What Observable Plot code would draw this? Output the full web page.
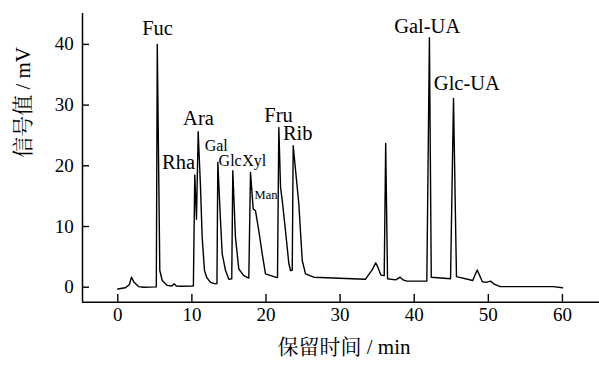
<!DOCTYPE html>
<html>
<head>
<meta charset="utf-8">
<script src="https://cdn.jsdelivr.net/npm/d3@7"></script>
<script src="https://cdn.jsdelivr.net/npm/@observablehq/plot@0.6"></script>
<style>
  html, body { margin: 0; padding: 0; background: #fff; }
  svg text { font-family: "Liberation Serif", "Noto Serif CJK SC", "Noto Sans CJK SC", serif; }
</style>
</head>
<body>
<div id="chart"></div>
<script>
// Retention time (min) and detector signal (mV)
const time = [0, 1.0, 1.55, 1.85, 2.2, 2.8, 3.5, 5.2, 5.33, 5.67, 6.0, 6.67, 7.3, 7.6, 7.9, 8.5,
  10.2, 10.39, 10.62, 10.85, 11.16, 11.39, 11.7, 12.0, 12.51, 13.18, 13.38, 13.5, 13.86, 14.09, 14.54, 14.98,
  15.38, 15.52, 15.88, 16.33, 17.0, 17.68, 17.91, 18.27, 18.58, 19.03, 19.49, 19.93, 21.28, 21.55, 21.73,
  21.96, 22.19, 22.63, 23.08, 23.31, 23.54, 23.67, 24.43, 24.89, 25.33, 26.45, 33.4, 34.3, 34.8, 35.1, 35.5,
  35.95, 36.15, 36.4, 37.5, 38.1, 38.5, 39.0, 41.7, 42.05, 42.3, 44.9, 45.3, 45.7, 47.9, 48.2, 48.5, 48.8,
  49.2, 49.7, 50.3, 50.8, 51.6, 58.8, 60];
const signal = [-0.3, -0.1, 0.4, 1.65, 0.8, 0.1, 0.0, 0.05, 40.0, 2.75, 1.1, 0.3, 0.2, 0.55, 0.2, 0.15,
  0.2, 18.5, 11.2, 25.6, 16.5, 8.2, 2.75, 1.6, 0.8, 0.55, 0.6, 20.6, 11, 5.5, 2.75, 1.3,
  1.4, 19.2, 8.2, 3.0, 1.9, 1.5, 18.9, 12.9, 12.6, 9.3, 5.5, 2.2, 1.65, 1.6, 26.3,
  16.5, 14.3, 9.3, 3.9, 2.75, 2.8, 23.3, 13.7, 4.4, 2.2, 1.65, 1.3, 2.8, 4.0, 3.3, 2.0,
  1.9, 23.7, 1.4, 1.2, 1.65, 1.2, 1.0, 1.0, 41.1, 1.65, 1.4, 31.1, 1.75, 1.1, 2.0, 2.85, 2.0,
  0.9, 0.8, 1.0, 0.5, 0.1, 0.1, -0.1];

// Peak annotations
const peakNames = ["Fuc", "Rha", "Ara", "Gal", "Glc", "Xyl", "Man", "Fru", "Rib", "Gal-UA", "Glc-UA"];
const peakTime  = [5.36, 8.2, 10.89, 13.28, 15.16, 18.42, 20.0, 21.69, 24.28, 41.75, 47.1];
const peakLabelY = [42.6, 20.5, 27.8, 23.3, 20.85, 20.85, 15.2, 28.3, 25.3, 42.95, 33.5];
const peakClass = ["major", "major", "major", "minor", "minor", "minor", "tiny", "major", "major", "major", "major"];

const xTicks = [0, 10, 20, 30, 40, 50, 60];
const yTicks = [0, 10, 20, 30, 40];
const xDomain = [-4.76, 65];
const yDomain = [-2.47, 45.09];
const xLabel = "保留时间 / min";
const yLabel = "信号值 / mV";

const trace = time.map((t, i) => ({t, v: signal[i]}));
const labels = peakNames.map((name, i) => ({name, t: peakTime[i], v: peakLabelY[i], cls: peakClass[i]}));
const sizeOf = {major: 20.5, minor: 16, tiny: 12.5};
const FONT = '"Liberation Serif", "Noto Serif CJK SC", "Noto Sans CJK SC", serif';

const chart = Plot.plot({
  width: 599,
  height: 365,
  marginLeft: 82,
  marginRight: 0,
  marginTop: 13,
  marginBottom: 63.3,
  style: `font-family: ${FONT}; background: #fff; color: #000;`,
  x: {domain: xDomain},
  y: {domain: yDomain},
  marks: [
    Plot.axisX({ticks: xTicks, tickSize: -7.7, tickPadding: 13, fontSize: 19, label: null, strokeWidth: 1.4, fontFamily: FONT}),
    Plot.axisY({ticks: yTicks, tickSize: -7, tickPadding: 15.7, fontSize: 19, label: null, strokeWidth: 1.4, fontFamily: FONT}),
    Plot.ruleY([yDomain[0]], {stroke: "#000", strokeWidth: 1.5}),
    Plot.ruleX([xDomain[0]], {stroke: "#000", strokeWidth: 1.5}),
    Plot.line(trace, {x: "t", y: "v", stroke: "#000", strokeWidth: 1.4, curve: "linear"}),
    Plot.text(labels, {x: "t", y: "v", text: "name", fontSize: d => sizeOf[d.cls], lineAnchor: "middle", fill: "#000", fontFamily: FONT}),
    Plot.text([yLabel], {text: d => d, frameAnchor: "left", dx: -59.5, rotate: -90, fontSize: 21, fill: "#000", fontFamily: FONT}),
    Plot.text([xLabel], {text: d => d, frameAnchor: "bottom", dy: 51.6, dx: 3, fontSize: 21, fill: "#000", fontFamily: FONT})
  ]
});
document.getElementById("chart").appendChild(chart);
</script>
</body>
</html>
